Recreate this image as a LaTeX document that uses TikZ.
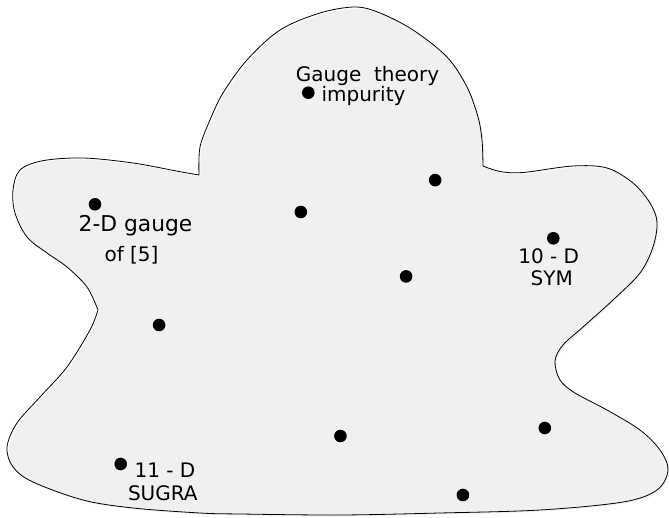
\documentclass[tikz,border=0pt]{standalone}
\usepackage{fontspec}
\setmainfont{DejaVu Sans}
\definecolor{blobfill}{RGB}{240,240,240}
\tikzset{
  dotnode/.style={circle,fill=black,inner sep=0pt,minimum size=12.6pt},
  lbl/.style={anchor=base,inner sep=0pt,font=\fontsize{20pt}{24pt}\selectfont},
  outline/.style={draw=black,line width=0.8pt},
}
\begin{document}
\begin{tikzpicture}[x=1pt,y=-1pt]
\useasboundingbox (0,0) rectangle (669,518);
\def\blobpath{
  plot[smooth,tension=0.55] coordinates {(199,175) (200,147) (210,120) (223,93) (247,60) (280,30) (320,13) (355,7) (380,13) (413,30) (447,57) (467,87) (478,117) (482,140) (483,166)}
  -- plot[smooth,tension=0.55] coordinates {(483,166) (500,171.5) (523,172.5) (573,166) (607,168) (633,183) (650,203) (657,222) (653,247) (640,273) (613,300) (583,327) (563,345) (555,361) (560,380) (575,393) (607,410) (640,430) (660,450) (668,470) (657,490) (623,502) (540,510) (440,513) (340,515) (240,514) (200,513) (133,508) (83,500) (33,482) (13,467) (7,447) (17,423) (40,397) (67,367) (90,330) (98,310)}
  -- plot[smooth,tension=0.55] coordinates {(98,310) (87,287) (67,267) (47,253) (27,237) (15,213) (13,190) (20,170) (43,160.7) (83,158) (133,163) (180,171.7) (199,175)}
  -- cycle}
\fill[blobfill,shift={(1.5,1.5)}] \blobpath;
\draw[outline] \blobpath;
% dots
\node[dotnode] (d1) at (308.3,92.7) {};
\node[dotnode] (d2) at (435.2,180.1) {};
\node[dotnode] (d3) at (300.8,212) {};
\node[dotnode] (d4) at (95,204.3) {};
\node[dotnode] (d5) at (553.3,238.3) {};
\node[dotnode] (d6) at (406.1,276.4) {};
\node[dotnode] (d7) at (159.1,325) {};
\node[dotnode] (d8) at (340.4,436) {};
\node[dotnode] (d9) at (544.8,428) {};
\node[dotnode] (d10) at (120.7,464) {};
\node[dotnode] (d11) at (462.9,495) {};
% labels
\node[lbl] (t1a) at (367.5,82) {Gauge\ \ theory};
\node[lbl] (t1b) at (363.5,102) {impurity};
\node[lbl,font=\fontsize{21.8pt}{26pt}\selectfont] (t2a) at (135.5,231.7) {2-D gauge};
\node[lbl] (t2b) at (131.5,261.7) {of [5]};
\node[lbl] (t3a) at (548.7,264) {10 - D};
\node[lbl] (t3b) at (551.7,285.7) {SYM};
\node[lbl] (t4a) at (165,477.7) {11 - D};
\node[lbl] (t4b) at (162.8,500) {SUGRA};
\end{tikzpicture}
\end{document}
